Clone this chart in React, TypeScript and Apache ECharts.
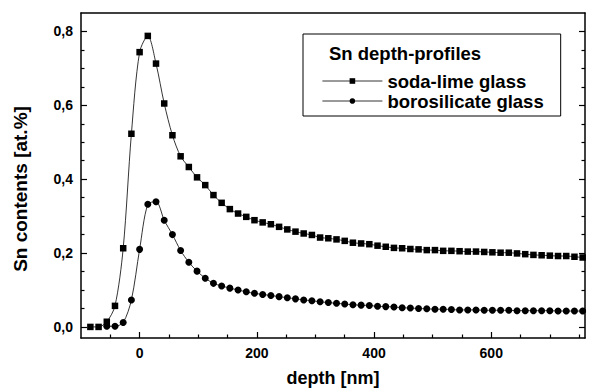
import React, { useEffect, useRef } from "react";
import * as echarts from "echarts";

const depth = [
  -84, -70, -56, -42, -28, -14, 0, 14, 28, 42, 56, 70, 84, 98, 112, 126, 140, 154, 168, 182,
  196, 210, 224, 238, 252, 266, 280, 294, 308, 322, 336, 350, 364, 378, 392, 406, 420, 434, 448, 462,
  476, 490, 504, 518, 532, 546, 560, 574, 588, 602, 616, 630, 644, 658, 672, 686, 700, 714, 728, 742, 756,
];

const sodaLime = [
  0.0, 0.0, 0.014, 0.057, 0.213, 0.523, 0.744, 0.788, 0.713, 0.605,
  0.519, 0.462, 0.433, 0.405, 0.384, 0.357, 0.336, 0.319, 0.307, 0.298,
  0.289, 0.283, 0.278, 0.271, 0.264, 0.258, 0.253, 0.249, 0.242, 0.24,
  0.237, 0.233, 0.228, 0.226, 0.224, 0.22, 0.217, 0.214, 0.213, 0.211,
  0.21, 0.208, 0.208, 0.206, 0.206, 0.205, 0.204, 0.204, 0.203, 0.202,
  0.201, 0.201, 0.199, 0.197, 0.195, 0.194, 0.193, 0.192, 0.192, 0.19, 0.188,
];

const borosilicate = [
  null, null, 0.002, 0.002, 0.012, 0.073, 0.21, 0.332, 0.339, 0.289,
  0.25, 0.207, 0.175, 0.151, 0.132, 0.118, 0.111, 0.105, 0.1, 0.095,
  0.091, 0.088, 0.085, 0.082, 0.079, 0.076, 0.073, 0.071, 0.068, 0.066,
  0.064, 0.062, 0.06, 0.059, 0.058, 0.056, 0.055, 0.054, 0.052, 0.051,
  0.05, 0.049, 0.048, 0.048, 0.047, 0.046, 0.046, 0.046, 0.045, 0.045,
  0.045, 0.045, 0.044, 0.044, 0.044, 0.044, 0.044, 0.043, 0.043, 0.043, 0.043,
];

const seriesNames = ["soda-lime glass", "borosilicate glass"];
const legendTitle = "Sn depth-profiles";
const xAxisName = "depth [nm]";
const yAxisName = "Sn contents [at.%]";

const xMajorTicks = [0, 200, 400, 600];
const xMinorTicks = [-50, 50, 100, 150, 250, 300, 350, 450, 500, 550, 650, 700, 750];
const yMajorTicks = [0, 0.2, 0.4, 0.6, 0.8];
const yMinorTicks = [0.05, 0.1, 0.15, 0.25, 0.3, 0.35, 0.45, 0.5, 0.55, 0.65, 0.7, 0.75];

const X_MIN = -100;
const X_MAX = 760;
const Y_MIN = -0.03;
const Y_MAX = 0.85;

const FONT = "'Liberation Sans', Arial, Helvetica, sans-serif";
const axisLineStyle = { color: "#000", width: 1.5 };
const tickLineStyle = { color: "#000", width: 1.2 };

function makeAxis(
  position: string,
  min: number,
  max: number,
  opts: { line?: boolean; ticks?: number[]; tickLen?: number; labels?: number[]; formatter?: any; margin?: number }
): any {
  return {
    type: "value",
    position,
    min,
    max,
    axisLine: { show: !!opts.line, onZero: false, lineStyle: axisLineStyle },
    axisTick: opts.ticks
      ? { show: true, inside: true, length: opts.tickLen, customValues: opts.ticks, lineStyle: tickLineStyle }
      : { show: false },
    axisLabel: opts.labels
      ? {
          show: true,
          customValues: opts.labels,
          color: "#000",
          fontSize: 14,
          fontWeight: "bold",
          fontFamily: FONT,
          margin: opts.margin ?? 8,
          formatter: opts.formatter,
        }
      : { show: false },
    splitLine: { show: false },
    minorTick: { show: false },
  };
}

export default function App() {
  const ref = useRef<HTMLDivElement>(null);

  useEffect(() => {
    document.body.style.margin = "0";
    if (!ref.current) return;
    const chart = echarts.init(ref.current, undefined, { renderer: "svg" });

    const xMain = makeAxis("bottom", X_MIN, X_MAX, {
      line: true,
      ticks: xMajorTicks,
      tickLen: 6,
      labels: xMajorTicks,
      margin: 8,
      formatter: (v: number) => String(v),
    });
    xMain.name = xAxisName;
    xMain.nameLocation = "middle";
    xMain.nameGap = 31;
    xMain.nameTextStyle = { fontSize: 18, fontWeight: "bold", fontFamily: FONT, color: "#000", lineHeight: 18 };

    const yMain = makeAxis("left", Y_MIN, Y_MAX, {
      line: true,
      ticks: yMajorTicks,
      tickLen: 6,
      labels: yMajorTicks,
      margin: 8,
      formatter: (v: number) => v.toFixed(1).replace(".", ","),
    });
    yMain.name = yAxisName;
    yMain.nameLocation = "middle";
    yMain.nameGap = 51;
    yMain.nameTextStyle = {
      fontSize: 19,
      fontWeight: "bold",
      fontFamily: FONT,
      color: "#000",
      padding: [0, 27, 0, 0],
    };

    const option: any = {
      animation: false,
      backgroundColor: "#fff",
      grid: { left: 81, right: 5, top: 13, bottom: 50, containLabel: false, outerBoundsMode: "none" },
      title: {
        text: legendTitle,
        left: 329,
        top: 44,
        padding: 0,
        textStyle: { fontSize: 18.5, fontWeight: "bold", fontFamily: FONT, color: "#000", lineHeight: 19 },
        z: 10,
      },
      legend: {
        show: true,
        data: seriesNames,
        orient: "vertical",
        left: 303,
        top: 34,
        padding: [37, 17, 5, 19],
        itemWidth: 60,
        itemHeight: 7,
        itemGap: 0,
        borderColor: "#000",
        borderWidth: 1,
        backgroundColor: "#fff",
        selectedMode: false,
        lineStyle: { width: 0.8, color: "#000" },
        textStyle: { fontSize: 18.5, fontWeight: "bold", fontFamily: FONT, color: "#000", lineHeight: 20 },
      },
      xAxis: [
        xMain,
        makeAxis("bottom", X_MIN, X_MAX, { ticks: xMinorTicks, tickLen: 3.5 }),
        makeAxis("top", X_MIN, X_MAX, { line: true }),
      ],
      yAxis: [
        yMain,
        makeAxis("left", Y_MIN, Y_MAX, { ticks: yMinorTicks, tickLen: 3.5 }),
        makeAxis("right", Y_MIN, Y_MAX, { line: true, ticks: yMajorTicks, tickLen: 6 }),
        makeAxis("right", Y_MIN, Y_MAX, { ticks: yMinorTicks, tickLen: 3.5 }),
      ],
      series: [
        {
          name: seriesNames[0],
          type: "line",
          xAxisIndex: 0,
          yAxisIndex: 0,
          data: depth.map((d, i) => [d, sodaLime[i]]),
          symbol: "rect",
          symbolSize: 6.5,
          showSymbol: true,
          smooth: 0.3,
          itemStyle: { color: "#000" },
          lineStyle: { color: "#000", width: 0.8 },
          silent: true,
          z: 3,
        },
        {
          name: seriesNames[1],
          type: "line",
          xAxisIndex: 0,
          yAxisIndex: 0,
          data: depth
            .map((d, i) => [d, borosilicate[i]])
            .filter((p) => p[1] !== null),
          symbol: "circle",
          symbolSize: 7,
          showSymbol: true,
          smooth: 0.3,
          itemStyle: { color: "#000" },
          lineStyle: { color: "#000", width: 0.8 },
          silent: true,
          z: 2,
        },
      ],
    };

    chart.setOption(option);
    return () => chart.dispose();
  }, []);

  return <div ref={ref} style={{ width: 590, height: 388 }} />;
}
